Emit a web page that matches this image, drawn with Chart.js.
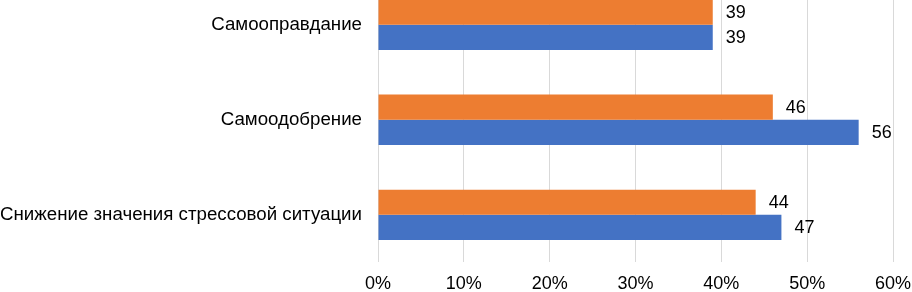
<!DOCTYPE html>
<html>
<head>
<meta charset="utf-8">
<script src="https://cdn.jsdelivr.net/npm/chart.js@4/dist/chart.umd.min.js"></script>
<style>
  html, body { margin: 0; padding: 0; background: #fff; overflow: hidden; }
  #wrap { position: absolute; left: 0; top: -50px; width: 912px; height: 356px; }
</style>
</head>
<body>
<div id="wrap"><canvas id="chart"></canvas></div>
<script>
const categories = ['Самооправдание', 'Самоодобрение', 'Снижение значения стрессовой ситуации'];
const orangeValues = [39, 46, 44];
const blueValues = [39, 56, 47];
const tickValues = [0, 10, 20, 30, 40, 50, 60];

const font = "'Liberation Sans', Arial, sans-serif";

// value labels to the right of each bar
const valueLabels = {
  id: 'valueLabels',
  afterDatasetsDraw(chart) {
    const ctx = chart.ctx;
    ctx.save();
    ctx.font = '18px ' + font;
    ctx.fillStyle = '#000';
    ctx.textAlign = 'left';
    ctx.textBaseline = 'middle';
    chart.data.datasets.forEach((ds, i) => {
      chart.getDatasetMeta(i).data.forEach((bar, j) => {
        ctx.fillText(ds.data[j], bar.x + 13, bar.y + 1);
      });
    });
    ctx.restore();
  }
};

new Chart(document.getElementById('chart').getContext('2d'), {
  type: 'bar',
  data: {
    labels: categories,
    datasets: [
      { label: 'orange', data: orangeValues, backgroundColor: '#ED7D31' },
      { label: 'blue', data: blueValues, backgroundColor: '#4472C4' }
    ]
  },
  options: {
    indexAxis: 'y',
    responsive: true,
    maintainAspectRatio: false,
    animation: false,
    categoryPercentage: 0.53,
    barPercentage: 1,
    plugins: { legend: { display: false }, tooltip: { enabled: false } },
    scales: {
      x: {
        min: 0,
        max: 60,
        afterBuildTicks: axis => { axis.ticks = tickValues.map(v => ({ value: v })); },
        afterFit: axis => { axis.paddingRight = 19; },
        grid: { color: '#d9d9d9', drawTicks: false },
        border: { display: false },
        ticks: {
          padding: 11,
          color: '#000',
          font: { family: font, size: 18 },
          callback: v => v + '%'
        }
      },
      y: {
        afterFit: axis => { axis.width = 378; },
        grid: { display: false, drawTicks: false },
        border: { display: false },
        ticks: {
          padding: 16,
          color: '#000',
          font: { family: font, size: 18.7 }
        }
      }
    }
  },
  plugins: [valueLabels]
});
</script>
</body>
</html>
